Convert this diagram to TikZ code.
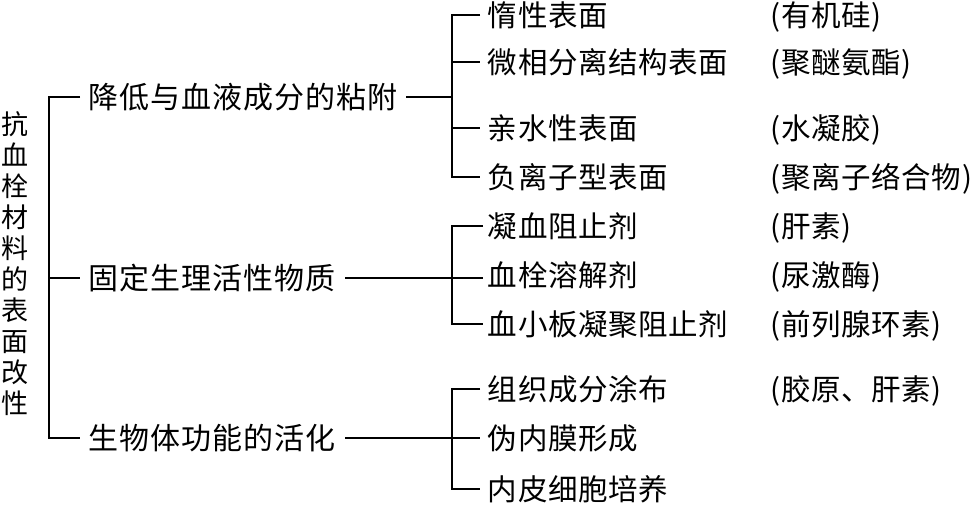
\documentclass[tikz,border=0pt]{standalone}
\usepackage{fontspec}
\newfontfamily\cjk[LetterSpace=2]{Noto Sans CJK SC}
\newfontfamily\cjkw[LetterSpace=3]{Noto Sans CJK SC}
\begin{document}
\begin{tikzpicture}[x=1pt,y=-1pt,line width=1.9pt,
  lbl/.style={anchor=west,inner sep=0pt,font=\cjk\fontsize{29.5}{32}\selectfont,text height=25.5pt,text depth=3.5pt},
  lblw/.style={lbl,font=\cjkw\fontsize{30}{32}\selectfont,text height=26pt,text depth=3.5pt},
  ttl/.style={inner sep=0pt,align=center,font=\cjk\fontsize{27}{31}\selectfont}]
\useasboundingbox (0,0) rectangle (971,506);
% title
\node[ttl] (title) at (15,264) {抗\\血\\栓\\材\\料\\的\\表\\面\\改\\性};
% level 1
\node[lblw] (a) at (88,97) {降低与血液成分的粘附};
\node[lblw] (b) at (88,278) {固定生理活性物质};
\node[lblw] (c) at (88,438) {生物体功能的活化};
% level 2
\node[lbl] (a1) at (487,15) {惰性表面};
\node[lbl] (a2) at (487,62) {微相分离结构表面};
\node[lbl] (a3) at (487,128) {亲水性表面};
\node[lbl] (a4) at (487,177) {负离子型表面};
\node[lbl] (b1) at (487,226) {凝血阻止剂};
\node[lbl] (b2) at (487,275) {血栓溶解剂};
\node[lbl] (b3) at (487,324) {血小板凝聚阻止剂};
\node[lbl] (c1) at (487,389) {组织成分涂布};
\node[lbl] (c2) at (487,438) {伪内膜形成};
\node[lbl] (c3) at (487,489) {内皮细胞培养};
% right
\node[lbl] (r1) at (770,15) {(有机硅)};
\node[lbl] (r2) at (770,62) {(聚醚氨酯)};
\node[lbl] (r3) at (770,128) {(水凝胶)};
\node[lbl] (r4) at (770,177) {(聚离子络合物)};
\node[lbl] (r5) at (770,226) {(肝素)};
\node[lbl] (r6) at (770,275) {(尿激酶)};
\node[lbl] (r7) at (770,324) {(前列腺环素)};
\node[lbl] (r8) at (770,389) {(胶原、肝素)};
% left bracket
\coordinate (L) at (49,278);
\draw ([xshift=-8pt]a.west) -| (L |- c) -- ([xshift=-8pt]c.west);
\draw (L) -- ([xshift=-8pt]b.west);
% group a
\coordinate (ja) at (452,97);
\draw ([xshift=8pt]a.east) -- (ja);
\draw ([xshift=-7pt]a1.west) -| (ja |- a4) -- ([xshift=-7pt]a4.west);
\draw (ja |- a2) -- ([xshift=-7pt]a2.west);
\draw (ja |- a3) -- ([xshift=-7pt]a3.west);
% group b
\coordinate (jb) at (452,278);
\draw ([xshift=9pt]b.east) -- ([xshift=-4pt]b.east -| b2.west);
\draw ([xshift=-4pt]b1.west) -| (jb |- b3) -- ([xshift=-4pt]b3.west);
% group c
\coordinate (jc) at (452,438);
\draw ([xshift=9pt]c.east) -- ([xshift=-7pt]c2.west);
\draw ([xshift=-7pt]c1.west) -| (jc |- c3) -- ([xshift=-7pt]c3.west);
\end{tikzpicture}
\end{document}
